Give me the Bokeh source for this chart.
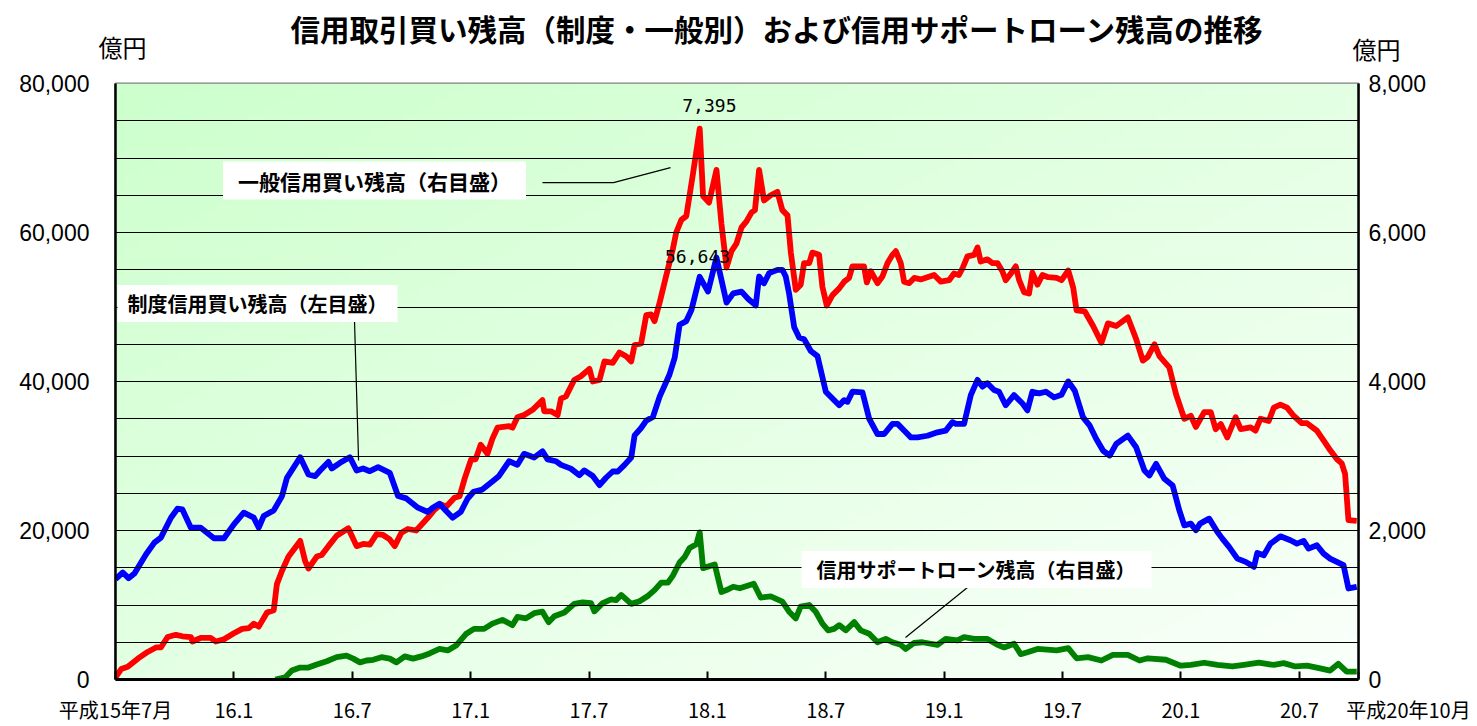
import numpy as np
from bokeh.plotting import figure
from bokeh.models import Range1d, LinearAxis, FixedTicker, NumeralTickFormatter, Label
from bokeh.embed import file_html
from bokeh.resources import INLINE

# ---------------- data (x = months since 平成15年7月) ----------------
title_text = "信用取引買い残高（制度・一般別）および信用サポートローン残高の推移"
unit_text = "億円"

tick_months = [0, 6, 12, 18, 24, 30, 36, 42, 48, 54, 60, 63]
tick_labels = ["平成15年7月", "16.1", "16.7", "17.1", "17.7", "18.1", "18.7", "19.1", "19.7", "20.1", "20.7",
               "\u3000\u3000\u3000\u3000\u3000平成20年10月"]

# 制度信用買い残高 (left axis, 億円)
seido_m = [0.00, 0.37, 0.66, 0.96, 1.55, 1.97, 2.30, 2.81, 3.14, 3.39, 3.82, 4.32, 4.99, 5.50, 6.00, 6.50,
           7.01, 7.26, 7.51, 8.02, 8.44, 8.69, 9.36, 9.78, 10.12, 10.37, 10.79, 10.96, 11.38, 11.88, 12.22,
           12.55, 12.89, 13.31, 13.90, 14.32, 14.74, 15.33, 15.83, 16.08, 16.42, 16.76, 17.09, 17.50, 17.85,
           18.15, 18.59, 19.10, 19.44, 19.95, 20.37, 20.71, 21.22, 21.64, 21.90, 22.32, 22.58, 23.08, 23.51,
           23.76, 24.19, 24.53, 24.86, 25.20, 25.46, 25.80, 26.14, 26.31, 26.64, 26.90, 27.24, 27.58, 28.08,
           28.34, 28.59, 28.93, 29.19, 29.61, 30.03, 30.46, 30.97, 31.31, 31.73, 32.07, 32.45, 32.62, 32.87,
           33.13, 33.55, 33.80, 33.97, 34.14, 34.40, 34.65, 34.90, 35.24, 35.58, 36.00, 36.25, 36.68, 36.93,
           37.10, 37.35, 37.86, 38.20, 38.62, 38.96, 39.38, 39.64, 39.97, 40.31, 40.65, 41.15, 41.66, 42.08,
           42.42, 42.59, 43.01, 43.35, 43.69, 43.94, 44.19, 44.53, 44.78, 45.12, 45.54, 45.97, 46.22, 46.47,
           46.81, 47.15, 47.57, 47.95, 48.29, 48.62, 49.04, 49.38, 49.71, 50.05, 50.39, 50.72, 51.31, 51.73,
           52.15, 52.40, 52.74, 53.16, 53.58, 53.92, 54.17, 54.50, 54.76, 54.97, 55.43, 55.85, 56.10, 56.44,
           56.86, 57.28, 57.70, 57.87, 58.20, 58.54, 59.04, 59.55, 59.88, 60.22, 60.47, 60.89, 61.23, 61.56,
           61.90, 62.24, 62.49, 62.91]
seido = [13470, 14360, 13600, 14230, 16810, 18380, 19040, 21720, 22920, 22830, 20380, 20380, 18960, 18960,
         20830, 22390, 21720, 20380, 21940, 22700, 24620, 27070, 29840, 27520, 27300, 28050, 29210, 28320,
         29080, 29840, 28050, 28320, 27960, 28500, 27740, 24620, 24310, 23060, 22480, 23060, 23590, 22610,
         21720, 22500, 24300, 25200, 25490, 26580, 27320, 29300, 28810, 30290, 29800, 30640, 29550, 29300,
         28810, 28310, 27420, 28070, 27320, 26090, 27080, 27920, 27920, 28810, 29800, 32770, 33760, 34750,
         35240, 37970, 40940, 43160, 47620, 48110, 49600, 54050, 52070, 56643, 50590, 51830, 52070, 51080,
         50220, 54090, 53180, 54540, 54990, 54990, 54090, 51810, 47270, 45900, 45680, 44090, 43400, 38630,
         37950, 36810, 37500, 37270, 38630, 38540, 35000, 32950, 32950, 34310, 34310, 33410, 32500, 32500,
         32720, 33180, 33410, 34540, 34310, 34310, 38180, 40220, 39310, 39770, 38860, 38630, 36810, 38180,
         37040, 36130, 38630, 38400, 38630, 37870, 38220, 40010, 38760, 35190, 34070, 32290, 30730, 30060,
         31620, 32740, 31180, 28050, 27380, 28950, 26940, 26050, 22700, 20690, 20920, 20030, 20920, 21590,
         19800, 18910, 17800, 16230, 15790, 15120, 16990, 16680, 18240, 19220, 18690, 18240, 18600, 17570,
         18020, 16900, 16230, 15790, 15340, 12220, 12440]

# 一般信用買い残高 (right axis, 億円)
ippan_m = [0.00, 0.29, 0.62, 1.13, 1.63, 2.05, 2.30, 2.64, 3.06, 3.39, 3.82, 3.90, 4.32, 4.82, 5.08, 5.50,
           6.00, 6.42, 6.76, 7.01, 7.26, 7.68, 8.02, 8.18, 8.44, 8.77, 9.36, 9.61, 9.78, 10.20, 10.45, 10.79,
           11.21, 11.80, 12.22, 12.55, 12.89, 13.23, 13.56, 13.90, 14.15, 14.49, 14.82, 15.24, 15.83, 16.17,
           16.50, 16.76, 17.18, 17.44, 17.70, 18.02, 18.25, 18.51, 18.85, 19.10, 19.36, 19.95, 20.12, 20.37,
           20.71, 21.14, 21.64, 21.73, 22.07, 22.41, 22.58, 22.83, 23.25, 23.59, 24.02, 24.19, 24.53, 24.78,
           25.20, 25.54, 25.88, 26.14, 26.31, 26.64, 26.90, 27.15, 27.32, 27.58, 27.92, 28.25, 28.42, 28.68,
           28.93, 29.27, 29.61, 29.78, 30.08, 30.46, 30.71, 30.97, 31.22, 31.47, 31.73, 31.98, 32.24, 32.41,
           32.62, 32.87, 33.21, 33.55, 33.80, 34.06, 34.23, 34.48, 34.73, 34.90, 35.16, 35.32, 35.66, 35.83,
           36.05, 36.34, 36.68, 36.93, 37.18, 37.35, 37.60, 37.94, 38.08, 38.28, 38.62, 38.87, 39.13, 39.38,
           39.55, 39.80, 39.97, 40.22, 40.48, 40.81, 41.15, 41.49, 41.83, 42.25, 42.50, 42.75, 42.93, 43.18,
           43.52, 43.69, 43.85, 44.19, 44.45, 44.70, 44.95, 45.12, 45.38, 45.63, 45.80, 46.05, 46.30, 46.47,
           46.73, 46.98, 47.28, 47.70, 47.95, 48.29, 48.54, 48.71, 49.13, 49.55, 49.97, 50.30, 50.72, 51.31,
           51.73, 52.07, 52.32, 52.66, 52.91, 53.41, 53.75, 54.17, 54.50, 54.76, 55.18, 55.51, 55.76, 56.02,
           56.35, 56.77, 57.03, 57.53, 57.78, 58.03, 58.45, 58.71, 59.04, 59.38, 59.71, 60.13, 60.39, 60.89,
           61.23, 61.56, 61.90, 62.15, 62.32, 62.49, 62.91]
ippan = [30, 140, 170, 280, 370, 430, 430, 570, 600, 580, 570, 510, 560, 560, 510, 540,
         620, 680, 690, 750, 710, 900, 930, 1280, 1460, 1650, 1860, 1590, 1490, 1650, 1670, 1790,
         1930, 2030, 1790, 1820, 1810, 1950, 1940, 1880, 1790, 1970, 2020, 2000, 2170, 2280,
         2350, 2320, 2440, 2460, 2700, 2950, 2955, 3150, 3030, 3230, 3380, 3400, 3380, 3520,
         3550, 3620, 3750, 3600, 3600, 3550, 3770, 3800, 4020, 4070, 4170, 4000, 4020, 4270,
         4250, 4390, 4340, 4270, 4490, 4510, 4890, 4900, 4810, 5060, 5430, 5780, 6000, 6170,
         6220, 6790, 7395, 6490, 6400, 6840, 6120, 5530, 5750, 5850, 6070, 6150, 6270, 6300,
         6840, 6430, 6500, 6545, 6300, 6230, 5730, 5230, 5300, 5590, 5590, 5730, 5700, 5270,
         5020, 5160, 5250, 5340, 5390, 5545, 5545, 5545, 5330, 5480, 5320, 5410, 5590, 5700,
         5750, 5590, 5340, 5320, 5390, 5370, 5400, 5430, 5340, 5360, 5450, 5430, 5520, 5680,
         5700, 5800, 5610, 5640, 5590, 5590, 5480, 5360, 5450, 5545, 5360, 5200, 5180, 5460,
         5300, 5430, 5400, 5390, 5360, 5490, 5260, 4955, 4940, 4745, 4520, 4780, 4745, 4860,
         4570, 4280, 4330, 4500, 4340, 4190, 3830, 3500, 3540, 3390, 3590, 3590, 3360, 3430,
         3250, 3520, 3360, 3385, 3340, 3500, 3470, 3650, 3690, 3650, 3540, 3440, 3440, 3340,
         3210, 3080, 2960, 2900, 2760, 2140, 2130]

# 信用サポートローン残高 (right axis, 億円)
support_m = [8.10, 8.61, 8.94, 9.36, 9.78, 10.20, 10.71, 11.21, 11.71, 12.05, 12.39, 12.72, 13.06, 13.48,
             13.90, 14.24, 14.66, 15.08, 15.50, 15.92, 16.42, 16.84, 17.26, 17.76, 18.17, 18.68, 19.10,
             19.61, 20.12, 20.37, 20.80, 21.22, 21.64, 21.95, 22.24, 22.75, 23.25, 23.68, 24.10, 24.27,
             24.69, 25.12, 25.37, 25.63, 26.14, 26.56, 27.00, 27.32, 27.66, 28.00, 28.25, 28.59, 28.85,
             29.10, 29.44, 29.61, 29.78, 30.37, 30.71, 30.97, 31.31, 31.64, 32.35, 32.70, 33.21, 33.80,
             34.14, 34.48, 34.73, 35.16, 35.49, 35.83, 36.12, 36.42, 36.68, 37.01, 37.44, 37.77, 38.20,
             38.62, 39.04, 39.38, 39.80, 40.05, 40.48, 40.90, 41.32, 41.66, 42.08, 42.67, 43.01, 43.52,
             44.19, 44.70, 45.04, 45.54, 45.88, 46.22, 46.73, 47.23, 47.70, 48.29, 48.71, 49.29, 49.97,
             50.55, 51.31, 51.90, 52.32, 53.24, 53.99, 54.50, 55.18, 55.85, 56.61, 57.19, 57.95, 58.71,
             59.21, 59.80, 60.39, 61.06, 61.56, 61.98, 62.40, 62.91]
support = [0, 30, 120, 160, 160, 200, 245, 300, 320, 280, 230, 255, 265, 300,
           280, 230, 310, 280, 310, 350, 410, 390, 455, 610, 680, 680, 750,
           800, 730, 840, 820, 890, 910, 770, 850, 900, 1015, 1035, 1025, 915,
           1025, 1075, 1065, 1135, 1015, 1050, 1125, 1200, 1300, 1300, 1395, 1570, 1645,
           1765, 1815, 1975, 1495, 1545, 1175, 1200, 1245, 1225, 1285, 1100, 1115, 1045,
           910, 820, 980, 1000, 910, 750, 660, 680, 730, 660, 770, 660, 615,
           500, 545, 500, 465, 410, 490, 500, 480, 465, 545, 525, 570, 545,
           545, 465, 430, 480, 340, 365, 410, 400, 390, 420, 285, 300, 255,
           330, 330, 255, 285, 265, 185, 195, 225, 195, 175, 195, 225, 195,
           220, 175, 185, 150, 120, 210, 105, 105]

# annotation texts and positions (months, left-axis units)
ann_ippan = ("一般信用買い残高（右目盛）", 13.13, 66970)
ann_support = ("信用サポートローン残高（右目盛）", 43.64, 14760)
ann_seido = ("制度信用買い残高（左目盛）", 7.2, 50460)
peak_ippan = ("7,395", 30.1, 77030)
peak_seido = ("56,643", 29.5, 56770)
leader_ippan = ([21.64, 25.24, 28.13], [66700, 66700, 68710])
leader_seido = ([12.11, 12.32], [48450, 29390])
leader_support = ([43.18, 40.04], [12350, 5640])
unit_left = (0.35, 84950)
unit_right = (63.91, 84680)

CJK = "Noto Sans CJK JP"

# ---------------- figure ----------------
p = figure(width=1477, height=726, output_backend="svg", toolbar_location=None,
           x_range=Range1d(0, 63), y_range=Range1d(0, 80000),
           min_border_left=115, min_border_right=119, min_border_top=83, min_border_bottom=47)
p.extra_y_ranges = {"right": Range1d(0, 8000)}
p.background_fill_color = "white"
p.border_fill_color = "white"
p.outline_line_color = "#808080"
p.outline_line_width = 2

# title
p.title.text = title_text
p.title.text_font = CJK
p.title.text_font_size = "29.5px"
p.title.text_font_style = "bold"
p.title.text_color = "black"
p.title.align = "left"
p.title.offset = 175
p.title.standoff = 0

# gradient background of the plotting area
ny, nx = 80, 160
u = np.linspace(0, 1, nx)[None, :]
v = 1 - np.linspace(0, 1, ny)[:, None]
t = (u + v) / 2.0
c0 = np.array([204, 255, 204], dtype=float)
c1 = np.array([250, 255, 250], dtype=float)
img = np.empty((ny, nx), dtype=np.uint32)
view = img.view(dtype=np.uint8).reshape((ny, nx, 4))
for k in range(3):
    view[:, :, k] = np.round(c0[k] + (c1[k] - c0[k]) * t).astype(np.uint8)
view[:, :, 3] = 255
p.image_rgba(image=[img], x=0, y=0, dw=63, dh=80000, level="underlay")

# grid
p.xgrid.visible = False
p.ygrid.ticker = FixedTicker(ticks=list(range(5000, 80000, 5000)))
p.ygrid.grid_line_color = "black"
p.ygrid.grid_line_width = 1.2
p.ygrid.level = "glyph"

def bare(axis):
    axis.major_tick_in = 0
    axis.major_tick_out = 0
    axis.minor_tick_in = 0
    axis.minor_tick_out = 0

# left value axis
yl = p.left[0]
yl.ticker = FixedTicker(ticks=[0, 20000, 40000, 60000, 80000])
yl.formatter = NumeralTickFormatter(format="0,0")
bare(yl)
yl.axis_line_width = 2.5
yl.axis_line_color = "black"
yl.major_label_text_font = "Liberation Sans"
yl.major_label_text_font_size = "23px"
yl.major_label_text_color = "black"
yl.major_label_standoff = 26

# right value axis
yr = LinearAxis(y_range_name="right", ticker=FixedTicker(ticks=[0, 2000, 4000, 6000, 8000]),
                formatter=NumeralTickFormatter(format="0,0"))
bare(yr)
yr.axis_line_width = 2.5
yr.axis_line_color = "black"
yr.major_label_text_font = "Liberation Sans"
yr.major_label_text_font_size = "23px"
yr.major_label_text_color = "black"
yr.major_label_standoff = 10
p.add_layout(yr, "right")

# bottom time axis
xa = p.below[0]
xa.ticker = FixedTicker(ticks=tick_months)
xa.major_label_overrides = {m: lab for m, lab in zip(tick_months, tick_labels)}
xa.major_tick_in = 8
xa.major_tick_out = 0
xa.major_tick_line_width = 2
xa.minor_tick_in = 0
xa.minor_tick_out = 0
xa.axis_line_width = 3
xa.axis_line_color = "black"
xa.major_label_text_font = CJK
xa.major_label_text_font_size = "20px"
xa.major_label_text_color = "black"
xa.major_label_standoff = 15

# unit labels (億円): kept in side panels so they are not clipped to the plot area
def unit_label(pos):
    return Label(x=pos[0], y=pos[1], text=unit_text, text_font=CJK, text_font_size="24px",
                 text_color="black", text_align="center", text_baseline="middle")

p.add_layout(unit_label(unit_left), "above")
p.add_layout(unit_label(unit_right), "right")

# series
p.line(ippan_m, ippan, y_range_name="right", line_color="#FF0000", line_width=5.8, line_join="round")
p.line(seido_m, seido, line_color="#0000FF", line_width=5.8, line_join="round")
p.line(support_m, support, y_range_name="right", line_color="#008000", line_width=5.8, line_join="round")

# leader lines
for lx, ly in (leader_ippan, leader_seido, leader_support):
    p.line(lx, ly, line_color="black", line_width=1.2)

# callouts
def callout(txt, lx, ly, fs, pad):
    return Label(x=lx, y=ly, text=txt, text_font=CJK, text_font_size=fs, text_font_style="bold",
                 text_color="black", text_align="center", text_baseline="middle",
                 background_fill_color="white",
                 padding={"left": pad, "right": pad, "top": 4, "bottom": 4})

p.add_layout(callout(ann_ippan[0], ann_ippan[1], ann_ippan[2], "21px", 15))
p.add_layout(callout(ann_support[0], ann_support[1], ann_support[2], "20px", 15))
p.add_layout(callout(ann_seido[0], ann_seido[1], ann_seido[2], "20px", 10))

for txt, lx, ly in (peak_ippan, peak_seido):
    p.add_layout(Label(x=lx, y=ly, text=txt, text_font="DejaVu Sans Mono", text_font_size="18px",
                       text_color="black", text_align="center", text_baseline="middle"))

open("out.html", "w").write(file_html(p, INLINE))
